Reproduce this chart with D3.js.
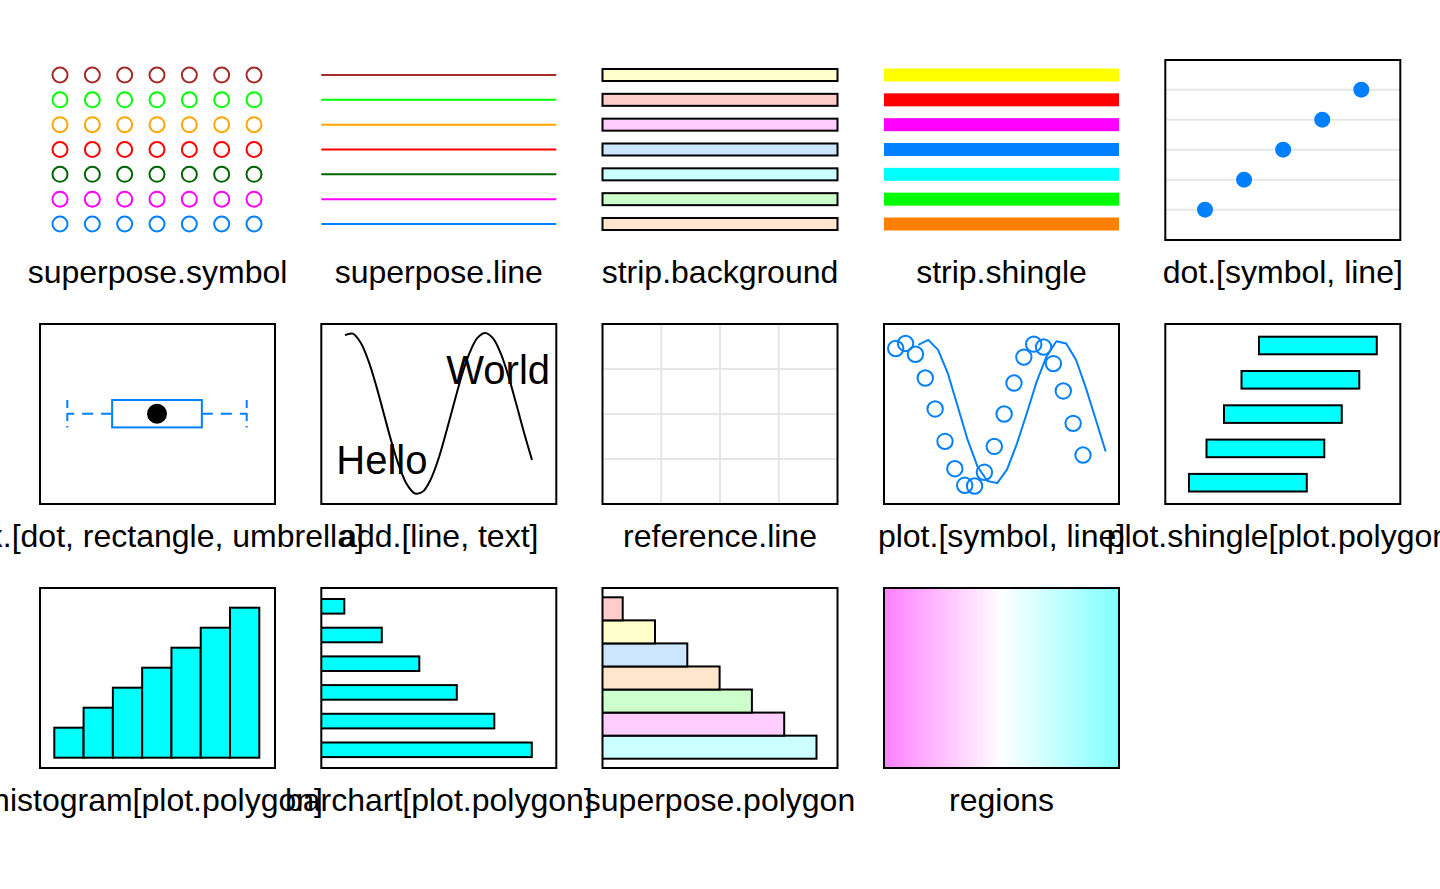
<!DOCTYPE html>
<html><head><meta charset="utf-8">
<script src="https://cdn.jsdelivr.net/npm/d3@7"></script>
<style>html,body{margin:0;padding:0;background:#fff;overflow:hidden}</style>
</head><body><svg id="c" width="1440" height="889"></svg>
<script>
// ---------- data ----------
const panelLabels = [
  ["superpose.symbol","superpose.line","strip.background","strip.shingle","dot.[symbol, line]"],
  ["box.[dot, rectangle, umbrella]","add.[line, text]","reference.line","plot.[symbol, line]","plot.shingle[plot.polygon]"],
  ["histogram[plot.polygon]","barchart[plot.polygon]","superpose.polygon","regions"]
];
const superposeColors = ["#0080FF","#FF00FF","#006400","#FF0000","#FFA500","#00FF00","#A52A2A"];
const stripBgColors = ["#FFE5CC","#CCFFCC","#CCFFFF","#CCE6FF","#FFCCFF","#FFCCCC","#FFFFCC"];
const stripShingleColors = ["#FF7F00","#00FF00","#00FFFF","#0080FF","#FF00FF","#FF0000","#FFFF00"];
const superposePolygonColors = ["#CCFFFF","#FFCCFF","#CCFFCC","#FFE5CC","#CCE6FF","#FFFFCC","#FFCCCC"];
const symbolCols = [1,2,3,4,5,6,7];
const levels = [1,2,3,4,5,6,7];
const dotValues = [1,2,3,4,5];
const boxStats = [0,1,2,3,4]; // min, q1, median, q3, max
const addLineY = [0.973,0.992,0.881,0.656,0.346,-0.009,-0.364,-0.670,-0.889,-0.994,-0.969,-0.818,-0.562,-0.228,0.130,0.475,0.756,0.940,1.000,0.933,0.743,0.456,0.111,-0.246,-0.576];
const refLinesX = [1,2,3];
const refLinesY = [1,2,3];
const plotSymY = [0.91,0.98,0.83,0.50,0.07,-0.38,-0.76,-0.99,-1.00,-0.81,-0.45,0.00,0.43,0.79,0.97,0.93,0.70,0.32,-0.13,-0.57];
const plotLineY = [0.96,1.03,0.89,0.56,0.10,-0.36,-0.73,-0.93,-0.96,-0.77,-0.41,0.01,0.45,0.80,1.01,0.98,0.75,0.36,-0.08,-0.52];
const plotLineOffset = 2.3;
const shingleStart = [1,2,3,4,5];
const shingleEnd = [7.73,8.73,9.73,10.73,11.73];
const histHeights = [1.5,2.5,3.5,4.5,5.5,6.5,7.5];
const barchartValues = [1,2,3,4,5,6];
const polygonValues = [7,6,5,4,3,2,1]; // bottom to top
const regionStops = ["#FF80FF","#FFFFFF","#80FFFF"];
const regionCount = 100;

// ---------- layout ----------
const colX = [40, 321.3, 602.5, 884, 1165.3];
const rowY = [60, 324, 588];
const PW = 235, PH = 180;
const labelOffset = 223;
const svg = d3.select("#c");
const font = "'Liberation Sans', Arial, Helvetica, sans-serif";

function frame(c, r) {
  svg.append("rect").attr("x", colX[c]).attr("y", rowY[r]).attr("width", PW).attr("height", PH)
    .attr("fill", "none").attr("stroke", "#000").attr("stroke-width", 2);
}
function clipFor(c, r, id) {
  svg.append("clipPath").attr("id", id).append("rect")
    .attr("x", colX[c]).attr("y", rowY[r]).attr("width", PW).attr("height", PH);
  return svg.append("g").attr("clip-path", `url(#${id})`);
}

// labels
panelLabels.forEach((row, r) => row.forEach((t, c) => {
  svg.append("text").attr("x", colX[c] + PW/2).attr("y", rowY[r] + labelOffset)
    .attr("text-anchor", "middle").attr("font-family", font).attr("font-size", 32).attr("fill", "#000").text(t);
}));

// shared level scale for row 1
const yLev = d3.scaleLinear().domain([1,7]).range([rowY[0]+164, rowY[0]+15]);

// 1. superpose.symbol
{
  const x = d3.scaleLinear().domain([1,7]).range([colX[0]+20, colX[0]+214]);
  levels.forEach((lv, i) => {
    svg.append("g").selectAll("circle").data(symbolCols).join("circle")
      .attr("cx", d => x(d)).attr("cy", yLev(lv)).attr("r", 7.5)
      .attr("fill", "none").attr("stroke", superposeColors[i]).attr("stroke-width", 2);
  });
}
// 2. superpose.line
{
  const x = d3.scaleLinear().domain([0,1]).range([colX[1], colX[1]+PW]);
  svg.append("g").selectAll("line").data(levels).join("line")
    .attr("x1", x(0)).attr("x2", x(1)).attr("y1", d => yLev(d)).attr("y2", d => yLev(d))
    .attr("stroke", (d,i) => superposeColors[i]).attr("stroke-width", 2);
}
// 3. strip.background
{
  const x = d3.scaleLinear().domain([0,1]).range([colX[2], colX[2]+PW]);
  svg.append("g").selectAll("rect").data(levels).join("rect")
    .attr("x", x(0)).attr("width", x(1)-x(0)).attr("y", d => yLev(d)-6).attr("height", 12)
    .attr("fill", (d,i) => stripBgColors[i]).attr("stroke", "#000").attr("stroke-width", 2);
}
// 4. strip.shingle
{
  const x = d3.scaleLinear().domain([0,1]).range([colX[3], colX[3]+PW]);
  svg.append("g").selectAll("rect").data(levels).join("rect")
    .attr("x", x(0)).attr("width", x(1)-x(0)).attr("y", d => yLev(d)-6.5).attr("height", 13)
    .attr("fill", (d,i) => stripShingleColors[i]);
}
// 5. dot
{
  const x = d3.scaleLinear().domain([1,5]).range([colX[4]+39.7, colX[4]+196]);
  const y = d3.scaleLinear().domain([1,5]).range([rowY[0]+149.7, rowY[0]+29.7]);
  svg.append("g").selectAll("line").data(dotValues).join("line")
    .attr("x1", colX[4]).attr("x2", colX[4]+PW).attr("y1", d => y(d)).attr("y2", d => y(d))
    .attr("stroke", "#E6E6E6").attr("stroke-width", 2);
  svg.append("g").selectAll("circle").data(dotValues).join("circle")
    .attr("cx", d => x(d)).attr("cy", d => y(d)).attr("r", 8).attr("fill", "#0080FF");
  frame(4, 0);
}
// 6. box
{
  const x = d3.scaleLinear().domain([0,4]).range([colX[0]+27.3, colX[0]+206.7]);
  const cy = rowY[1] + 89.7, hh = 13.7;
  const g = svg.append("g").attr("stroke", "#0080FF").attr("stroke-width", 2).attr("fill", "none");
  g.append("line").attr("x1", x(boxStats[1])).attr("x2", x(boxStats[0])).attr("y1", cy).attr("y2", cy).attr("stroke-dasharray", "11,8");
  g.append("line").attr("x1", x(boxStats[3])).attr("x2", x(boxStats[4])).attr("y1", cy).attr("y2", cy).attr("stroke-dasharray", "11,8");
  [boxStats[0], boxStats[4]].forEach(v => g.append("line").attr("x1", x(v)).attr("x2", x(v)).attr("y1", cy-hh).attr("y2", cy+hh).attr("stroke-dasharray", "8,5"));
  g.append("rect").attr("x", x(boxStats[1])).attr("width", x(boxStats[3])-x(boxStats[1])).attr("y", cy-hh).attr("height", 2*hh);
  svg.append("circle").attr("cx", x(boxStats[2])).attr("cy", cy).attr("r", 10).attr("fill", "#000");
  frame(0, 1);
}
// 7. add.[line, text]
{
  const x = d3.scaleLinear().domain([0,24]).range([colX[1]+23.7, colX[1]+210.7]);
  const y = d3.scaleLinear().domain([-1,1]).range([rowY[1]+170, rowY[1]+9]);
  svg.append("path").datum(addLineY)
    .attr("d", d3.line().x((d,i) => x(i)).y(d => y(d)).curve(d3.curveCatmullRom))
    .attr("fill", "none").attr("stroke", "#000").attr("stroke-width", 2);
  svg.append("text").attr("x", colX[1]+15).attr("y", rowY[1]+150).attr("font-family", font).attr("font-size", 40).text("Hello");
  svg.append("text").attr("x", colX[1]+125).attr("y", rowY[1]+60).attr("font-family", font).attr("font-size", 40).text("World");
  frame(1, 1);
}
// 8. reference.line
{
  const x = d3.scaleLinear().domain([0,4]).range([colX[2], colX[2]+PW]);
  const y = d3.scaleLinear().domain([0,4]).range([rowY[1]+PH, rowY[1]]);
  const g = svg.append("g").attr("stroke", "#E6E6E6").attr("stroke-width", 2);
  g.selectAll(".v").data(refLinesX).join("line").attr("x1", d => x(d)).attr("x2", d => x(d)).attr("y1", y(0)).attr("y2", y(4));
  g.selectAll(".h").data(refLinesY).join("line").attr("y1", d => y(d)+ (d===2?0:0)).attr("y2", d => y(d)).attr("x1", x(0)).attr("x2", x(4));
  frame(2, 1);
}
// 9. plot.[symbol, line]
{
  const x = d3.scaleLinear().domain([1,20]).range([colX[3]+11.7, colX[3]+199]);
  const y = d3.scaleLinear().domain([-1,1]).range([rowY[1]+162, rowY[1]+18]);
  const g = clipFor(3, 1, "cp9");
  g.selectAll("circle").data(plotSymY).join("circle")
    .attr("cx", (d,i) => x(i+1)).attr("cy", d => y(d)).attr("r", 7.7)
    .attr("fill", "none").attr("stroke", "#0080FF").attr("stroke-width", 2);
  g.append("path").datum(plotLineY)
    .attr("d", d3.line().x((d,i) => x(i+1+plotLineOffset)).y(d => y(d)))
    .attr("fill", "none").attr("stroke", "#0080FF").attr("stroke-width", 2).attr("stroke-linejoin", "round");
  frame(3, 1);
}
// 10. plot.shingle
{
  const x = d3.scaleLinear().domain([1,8]).range([colX[4]+23.7, colX[4]+146.2]);
  const y = d3.scalePoint().domain([1,2,3,4,5]).range([rowY[1]+158.7, rowY[1]+21.5]);
  svg.append("g").selectAll("rect").data(shingleStart).join("rect")
    .attr("x", d => x(d)).attr("width", (d,i) => x(shingleEnd[i]) - x(d))
    .attr("y", (d,i) => y(i+1) - 8.8).attr("height", 17.6)
    .attr("fill", "#00FFFF").attr("stroke", "#000").attr("stroke-width", 2);
  frame(4, 1);
}
// 11. histogram
{
  const x = d3.scaleLinear().domain([0,7]).range([colX[0]+14.3, colX[0]+219.3]);
  const y = d3.scaleLinear().domain([0,9]).range([rowY[2]+169.7, rowY[2]-10.3]);
  svg.append("g").selectAll("rect").data(histHeights).join("rect")
    .attr("x", (d,i) => x(i)).attr("width", (d,i) => x(i+1)-x(i))
    .attr("y", d => y(d)).attr("height", d => y(0)-y(d))
    .attr("fill", "#00FFFF").attr("stroke", "#000").attr("stroke-width", 2);
  frame(0, 2);
}
// 12. barchart
{
  const x = d3.scaleLinear().domain([0,6]).range([colX[1]-14.5, colX[1]+210.5]);
  const y = d3.scalePoint().domain(barchartValues).range([rowY[2]+18.3, rowY[2]+161.8]);
  const g = clipFor(1, 2, "cp12");
  g.selectAll("rect").data(barchartValues).join("rect")
    .attr("x", x(0)).attr("width", d => x(d)-x(0))
    .attr("y", d => y(d)-7.3).attr("height", 14.6)
    .attr("fill", "#00FFFF").attr("stroke", "#000").attr("stroke-width", 2);
  frame(1, 2);
}
// 13. superpose.polygon
{
  const x = d3.scaleLinear().domain([0,7]).range([colX[2]-12.1, colX[2]+214]);
  const y = d3.scaleBand().domain(d3.range(polygonValues.length)).range([rowY[2]+170.7, rowY[2]+9.3]);
  const g = clipFor(2, 2, "cp13");
  g.selectAll("rect").data(polygonValues).join("rect")
    .attr("x", x(0)).attr("width", d => x(d)-x(0))
    .attr("y", (d,i) => y(i)).attr("height", y.bandwidth())
    .attr("fill", (d,i) => superposePolygonColors[i]).attr("stroke", "#000").attr("stroke-width", 2);
  frame(2, 2);
}
// 14. regions
{
  const x = d3.scaleLinear().domain([0, regionCount]).range([colX[3], colX[3]+PW]);
  const col = d3.piecewise(d3.interpolateRgb, regionStops);
  svg.append("g").selectAll("rect").data(d3.range(regionCount)).join("rect")
    .attr("x", d => x(d)).attr("width", x(1)-x(0)+0.5)
    .attr("y", rowY[2]).attr("height", PH)
    .attr("fill", d => col(d/(regionCount-1)));
  frame(3, 2);
}
</script></body></html>
